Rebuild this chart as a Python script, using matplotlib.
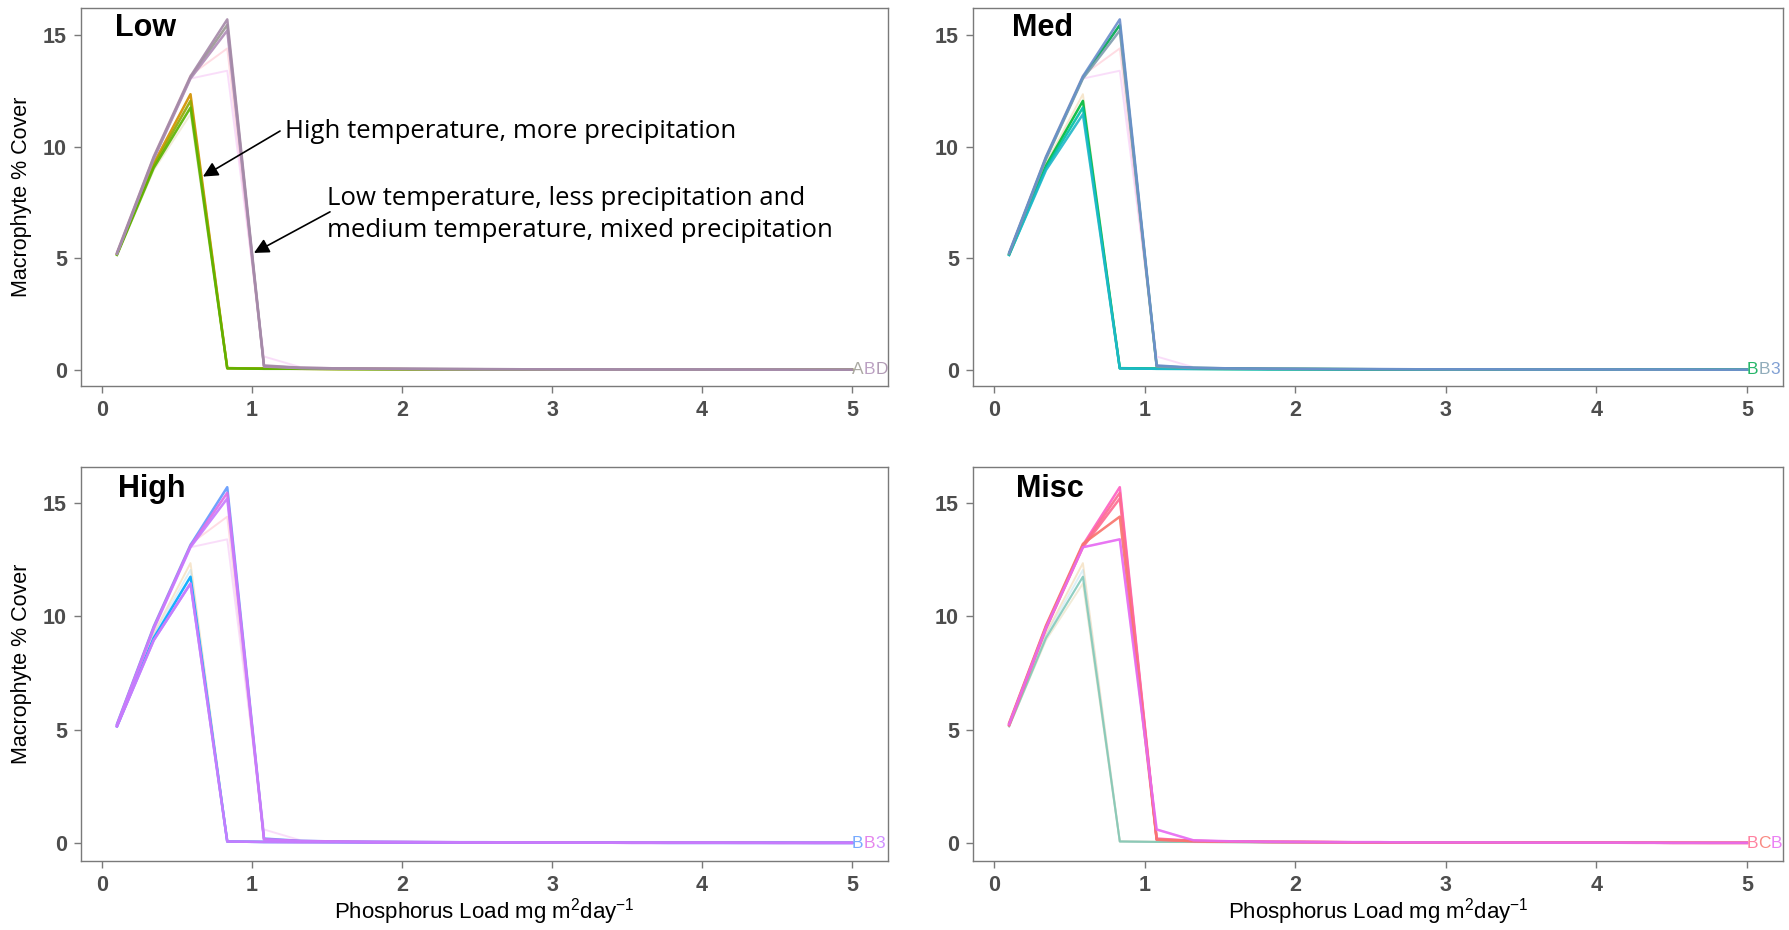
import numpy as np
import matplotlib
matplotlib.use("Agg")
import matplotlib.pyplot as plt

plt.rcParams['font.family'] = ['Liberation Sans', 'DejaVu Sans']
plt.rcParams['mathtext.default'] = 'regular'

# phosphorus load steps (mg m2 day-1)
x_load = [0.1, 0.345, 0.59, 0.835, 1.08, 1.325, 1.57, 1.815, 2.06, 2.305, 2.55,
          2.795, 3.04, 3.285, 3.53, 3.775, 4.02, 4.265, 4.51, 4.755, 5.0]

# macrophyte cover, early collapse (hot / wet runs)
early_1 = [5.2, 9.25, 12.35, 0.08, 0.06, 0.05, 0.04, 0.04, 0.03, 0.03, 0.03,
           0.02, 0.02, 0.02, 0.02, 0.02, 0.01, 0.01, 0.01, 0.01, 0.01]
early_2 = [5.2, 9.15, 12.05, 0.08, 0.06, 0.05, 0.04, 0.04, 0.03, 0.03, 0.03,
           0.02, 0.02, 0.02, 0.02, 0.02, 0.01, 0.01, 0.01, 0.01, 0.01]
early_3 = [5.15, 9.05, 11.75, 0.07, 0.05, 0.05, 0.04, 0.03, 0.03, 0.03, 0.02,
           0.02, 0.02, 0.02, 0.02, 0.01, 0.01, 0.01, 0.01, 0.01, 0.01]
early_4 = [5.15, 8.95, 11.45, 0.07, 0.05, 0.04, 0.04, 0.03, 0.03, 0.02, 0.02,
           0.02, 0.02, 0.02, 0.01, 0.01, 0.01, 0.01, 0.01, 0.01, 0.01]

# late collapse (cool / medium runs)
late_1 = [5.25, 9.55, 13.15, 15.7, 0.2, 0.1, 0.07, 0.06, 0.05, 0.04, 0.04,
          0.03, 0.03, 0.03, 0.02, 0.02, 0.02, 0.02, 0.02, 0.01, 0.01]
late_2 = [5.2, 9.5, 13.1, 15.45, 0.17, 0.09, 0.07, 0.05, 0.05, 0.04, 0.03,
          0.03, 0.03, 0.02, 0.02, 0.02, 0.02, 0.02, 0.01, 0.01, 0.01]
late_3 = [5.2, 9.45, 13.05, 15.2, 0.15, 0.08, 0.06, 0.05, 0.04, 0.04, 0.03,
          0.03, 0.02, 0.02, 0.02, 0.02, 0.02, 0.01, 0.01, 0.01, 0.01]

# mixed runs
misc_1 = [5.3, 9.6, 13.2, 14.4, 0.15, 0.09, 0.07, 0.05, 0.05, 0.04, 0.03,
          0.03, 0.03, 0.02, 0.02, 0.02, 0.02, 0.02, 0.01, 0.01, 0.01]
misc_2 = [5.25, 9.5, 13.05, 13.4, 0.6, 0.12, 0.08, 0.06, 0.05, 0.04, 0.04,
          0.03, 0.03, 0.03, 0.02, 0.02, 0.02, 0.02, 0.01, 0.01, 0.01]

panel_names = ["Low", "Med", "High", "Misc"]
title_x = [0.29, 0.32, 0.33, 0.37]
title_y = [15.3, 15.3, 15.6, 15.6]

low_lines = [early_1, early_2, early_3, late_2, late_3, late_1]
low_cols = ["#D39200", "#93AA00", "#5BB300", "#9c9a92", "#b08fb8", "#a48aa8"]
low_tags = ["A", "B", "D"]

med_lines = [early_2, early_3, early_4, late_2, late_3, late_1]
med_cols = ["#00BA38", "#00C1A3", "#1fb8cc", "#00A94F", "#7f9fb0", "#6a8fcc"]
med_tags = ["B", "B", "3"]

high_lines = [early_3, early_4, early_4, late_1, late_2, late_3]
high_cols = ["#00A9FF", "#B983FF", "#C77CFF", "#619CFF", "#E16FE8", "#C77CFF"]
high_tags = ["B", "B", "3"]

misc_lines = [late_1, late_2, late_3, misc_1, misc_2]
misc_cols = ["#FF61C3", "#FF6C91", "#FF6C91", "#F8766D", "#E76BF3"]
misc_tags = ["B", "C", "B"]

# faint copies of every run shown behind each panel
bg_lines = [early_1, early_2, early_3, early_4, late_1, late_2, late_3, misc_1, misc_2]
bg_cols = ["#E7B870", "#9fd4e8", "#9fd4e8", "#d8c890", "#f0b0d8", "#b0c0f0",
           "#f0b0e0", "#ff9cb0", "#f0a0f0"]

fig = plt.figure(figsize=(17.89, 9.30), dpi=100)
W, H = 1789.0, 930.0

boxes = [(81, 8, 888, 386), (973, 8, 1783, 386),
         (81, 467, 888, 861), (973, 467, 1783, 861)]
ylims = [(-0.72, 16.21), (-0.72, 16.21), (-0.79, 16.59), (-0.79, 16.59)]
panel_lines = [low_lines, med_lines, high_lines, misc_lines]
panel_cols = [low_cols, med_cols, high_cols, misc_cols]
panel_tags = [low_tags, med_tags, high_tags, misc_tags]

axes = []
for i, (l, t, r, b) in enumerate(boxes):
    ax = fig.add_axes([l / W, 1 - b / H, (r - l) / W, (b - t) / H])
    axes.append(ax)

    for y, c in zip(bg_lines, bg_cols):
        ax.plot(x_load, y, color=c, lw=1.4, alpha=0.35, zorder=1)

    for y, c in zip(panel_lines[i], panel_cols[i]):
        ax.plot(x_load, y, color=c, lw=1.8, alpha=0.9, zorder=3)
    if i == 3:
        # the hot runs stay visible in the mixed panel
        ax.plot(x_load, early_3, color="#7cc7b5", lw=1.5, alpha=0.8, zorder=2)

    # end-of-line run tags
    for k, (tag, c) in enumerate(zip(panel_tags[i], panel_cols[i][-3:])):
        ax.text(5.0 + 0.078 * k, 0.0, tag, color=c, fontsize=12.5, ha="left",
                va="center", alpha=0.85, zorder=4)

    ax.text(title_x[i], title_y[i], panel_names[i], fontsize=22,
            fontweight="bold", ha="center", va="center", color="black")

    ax.set_xlim(-0.14, 5.24)
    ax.set_ylim(*ylims[i])
    ax.set_xticks([0, 1, 2, 3, 4, 5])
    ax.set_yticks([0, 5, 10, 15])
    for sp in ax.spines.values():
        sp.set_color("#7a7a7a")
        sp.set_linewidth(1.0)
    ax.tick_params(length=5, width=1.0, color="#7a7a7a", labelsize=15.5,
                   labelcolor="#4d4d4d", pad=5)
    for lab in ax.get_xticklabels() + ax.get_yticklabels():
        lab.set_fontweight("bold")

# axis titles
for yc in (197, 664):
    fig.text(22 / W, 1 - yc / H, "Macrophyte % Cover", rotation=90,
             fontsize=15.5, ha="center", va="center")
for xc in (484, 1378):
    fig.text(xc / W, 18 / H, "Phosphorus Load mg m$^2$day$^{-1}$",
             fontsize=16, ha="center", va="center")

# callouts on the first panel
ax = axes[0]
arrow = dict(arrowstyle="-|>,head_length=0.9,head_width=0.45", color="black",
             lw=1.2, shrinkA=0, shrinkB=0)
ax.annotate("", xy=(0.673, 8.66), xytext=(1.187, 10.7), arrowprops=arrow)
ax.annotate("", xy=(1.013, 5.24), xytext=(1.52, 7.08), arrowprops=arrow)
ax.text(1.22, 10.66, "High temperature, more precipitation", fontsize=18.5,
        family=["Open Sans", "DejaVu Sans"], ha="left", va="center")
ax.text(1.5, 6.97, "Low temperature, less precipitation and\n"
        "medium temperature, mixed precipitation", fontsize=18.5,
        family=["Open Sans", "DejaVu Sans"], ha="left", va="center",
        linespacing=1.36)

fig.savefig("out.png", dpi=100)
